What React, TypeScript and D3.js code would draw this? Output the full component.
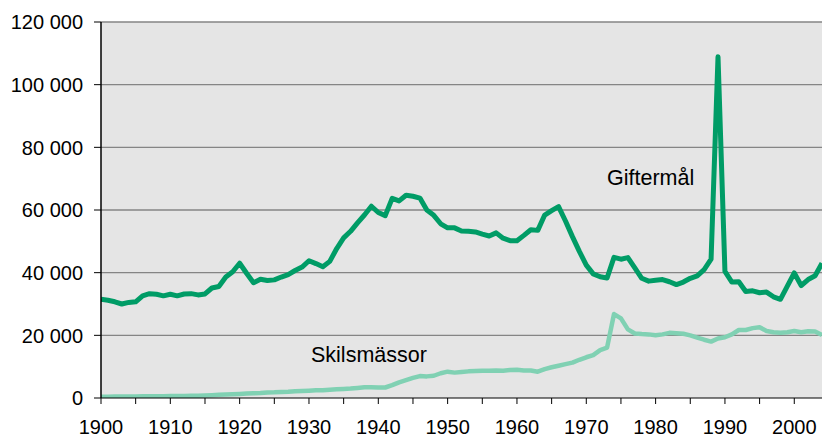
import React from "react";
import * as d3 from "d3";

const startYear = 1900;
const giftermal: number[] = [
  31500, 31200, 30700, 30000, 30500, 30700, 32600, 33300, 33100, 32600,
  33100, 32600, 33200, 33300, 32900, 33200, 35100, 35600, 38600, 40300,
  43000, 39800, 36800, 37900, 37500, 37700, 38600, 39400, 40700, 41800,
  43800, 42900, 41900, 43600, 47700, 51100, 53200, 55900, 58400, 61200,
  59200, 58200, 63700, 62900, 64700, 64400, 63800, 60000, 58300, 55600,
  54300, 54300, 53300, 53200, 53000, 52300, 51700, 52700, 51000, 50200,
  50200, 51900, 53700, 53500, 58400, 59800, 61100, 56500, 51500, 46800,
  42400, 39600, 38700, 38300, 44900, 44300, 44800, 41500, 38200, 37300,
  37600, 37800, 37100, 36200, 37000, 38200, 39000, 41000, 44300, 108900,
  40400, 37000, 37100, 34000, 34200, 33600, 33800, 32300, 31500, 35700,
  39900, 35900, 37800, 39000, 43000,
];
const skilsmassor: number[] = [
  400, 420, 440, 460, 480, 500, 520, 540, 560, 580,
  600, 630, 660, 700, 730, 800, 900, 1000, 1100, 1200,
  1300, 1400, 1500, 1600, 1750, 1800, 1900, 2000, 2150, 2250,
  2350, 2450, 2500, 2650, 2800, 2900, 3000, 3200, 3400, 3450,
  3350, 3350, 4100, 5000, 5700, 6400, 7000, 6900, 7100, 7900,
  8400, 8100, 8300, 8500, 8600, 8700, 8700, 8800, 8700, 8900,
  9000, 8800, 8800, 8400, 9200, 9800, 10300, 10800, 11300, 12200,
  13000, 13700, 15300, 16100, 26800, 25400, 21900, 20600, 20400, 20300,
  20000, 20300, 20800, 20700, 20500, 20000, 19300, 18600, 18000, 19000,
  19400, 20300, 21700, 21700, 22300, 22600, 21400, 21000, 20800, 21000,
  21400, 21000, 21300, 21200, 20100,
];
const yTicks: number[] = [0, 20000, 40000, 60000, 80000, 100000, 120000];
const xLabelYears: number[] = [1900, 1910, 1920, 1930, 1940, 1950, 1960, 1970, 1980, 1990, 2000];
const seriesLabels: string[] = ["Giftermål", "Skilsmässor"];

const W = 822;
const H = 438;
const left = 101;
const right = 822;
const top = 22;
const bottom = 398;

export default function App() {
  const x = d3.scaleLinear().domain([1900, 2004]).range([left, right]);
  const y = d3.scaleLinear().domain([0, 120000]).range([bottom, top]);
  const line = d3
    .line<number>()
    .x((_, i) => x(startYear + i))
    .y((d) => y(d));
  const minorYears = d3.range(1900, 2005, 5);
  const font = "'Liberation Sans', Arial, sans-serif";
  const fmt = (v: number) => d3.format(",")(v).replace(/,/g, " ");

  return (
    <svg
      width={W}
      height={H}
      style={{ position: "absolute", left: 0, top: 0, background: "#fff" }}
      fontFamily={font}
    >
      <defs>
        <clipPath id="plot">
          <rect x={left} y={top - 10} width={right - left} height={bottom - top + 10} />
        </clipPath>
      </defs>
      <rect x={left} y={top} width={right - left} height={bottom - top} fill="#e5e5e5" />
      {yTicks.map((t) => (
        <g key={t}>
          {t > 0 && (
            <line x1={left} x2={right} y1={y(t)} y2={y(t)} stroke="#858585" strokeWidth={1.3} />
          )}
          <line x1={left - 7} x2={left} y1={y(t)} y2={y(t)} stroke="#000" strokeWidth={1} />
          <text x={83} y={y(t)} dy="0.36em" textAnchor="end" fontSize={20} fill="#000">
            {fmt(t)}
          </text>
        </g>
      ))}
      {minorYears.map((yr) => (
        <line key={yr} x1={x(yr)} x2={x(yr)} y1={bottom} y2={bottom + 6} stroke="#000" strokeWidth={1} />
      ))}
      {xLabelYears.map((yr) => (
        <text key={yr} x={x(yr)} y={433.5} textAnchor="middle" fontSize={20} fill="#000">
          {yr}
        </text>
      ))}
      <g clipPath="url(#plot)">
        <path d={line(skilsmassor) || ""} fill="none" stroke="#80d1b3" strokeWidth={4.5} strokeLinejoin="round" />
        <path d={line(giftermal) || ""} fill="none" stroke="#009c66" strokeWidth={5} strokeLinejoin="round" />
      </g>
      <line x1={left} x2={right} y1={bottom} y2={bottom} stroke="#000" strokeWidth={1} />
      <line x1={left} x2={left} y1={top} y2={bottom} stroke="#000" strokeWidth={1.5} />
      <text x={607} y={185} fontSize={21.5} fill="#000">{seriesLabels[0]}</text>
      <text x={311} y={361.5} fontSize={21.5} fill="#000">{seriesLabels[1]}</text>
    </svg>
  );
}
